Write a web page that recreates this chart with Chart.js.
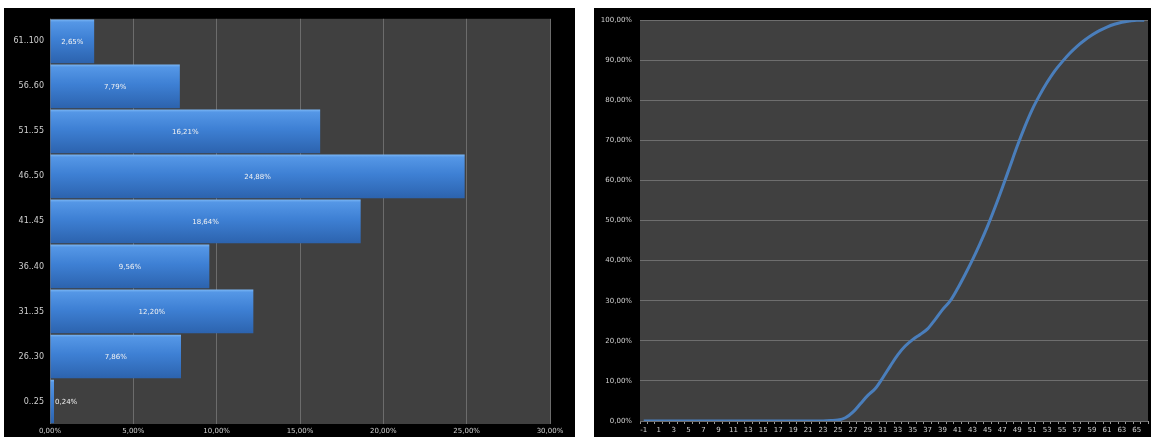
<!DOCTYPE html>
<html>
<head>
<meta charset="utf-8">
<script src="https://cdn.jsdelivr.net/npm/chart.js@4.4.1/dist/chart.umd.min.js"></script>
<style>
  html, body { margin: 0; padding: 0; background: #ffffff; width: 1151px; height: 437px; overflow: hidden; }
  .box { position: absolute; background: #000000; }
  #leftBox { left: 4px; top: 8px; width: 571px; height: 429px; }
  #rightBox { left: 594px; top: 8px; width: 557px; height: 429px; }
  canvas { display: block; }
</style>
</head>
<body>
<div class="box" id="leftBox"><canvas id="barChart" width="571" height="429"></canvas></div>
<div class="box" id="rightBox"><canvas id="lineChart" width="557" height="429"></canvas></div>
<script>
// ---- Data: age-group distribution (percent) ----
const ageGroups = ["61..100", "56..60", "51..55", "46..50", "41..45", "36..40", "31..35", "26..30", "0..25"];
const groupShares = [2.65, 7.79, 16.21, 24.88, 18.64, 9.56, 12.20, 7.86, 0.24];
const shareTicks = [0, 5, 10, 15, 20, 25, 30];

// ---- Data: cumulative share by age (percent) ----
const ages = [-1, 0, 1, 2, 3, 4, 5, 6, 7, 8, 9, 10, 11, 12, 13, 14, 15, 16, 17, 18, 19, 20, 21, 22,
  23, 24, 25, 26, 27, 28, 29, 30, 31, 32, 33, 34, 35, 36, 37, 38, 39, 40, 41, 42, 43, 44, 45,
  46, 47, 48, 49, 50, 51, 52, 53, 54, 55, 56, 57, 58, 59, 60, 61, 62, 63, 64, 65, 66];
const cumulativeShare = [0, 0, 0, 0, 0, 0, 0, 0, 0, 0, 0, 0, 0, 0, 0, 0, 0, 0, 0, 0, 0, 0, 0, 0,
  0.02, 0.1, 0.24, 0.8, 2.2, 4.3, 6.4, 8.1, 10.8, 13.7, 16.5, 18.7, 20.3, 21.6, 23.0, 25.3, 27.8, 29.9,
  33.0, 36.5, 40.2, 44.2, 48.5, 53.2, 58.2, 63.4, 68.6, 73.4, 77.7, 81.3, 84.5, 87.3, 89.6,
  91.7, 93.5, 95.0, 96.3, 97.4, 98.3, 99.0, 99.5, 99.8, 100, 100];

const pct = v => Number(v).toFixed(2).replace('.', ',') + '%';

Chart.defaults.font.family = "'DejaVu Sans', sans-serif";
Chart.defaults.color = '#d4d4d4';
Chart.defaults.animation = false;

const plotBg = {
  id: 'plotBg',
  beforeDraw(chart) {
    const a = chart.chartArea, c = chart.ctx;
    c.save();
    c.fillStyle = '#404040';
    c.fillRect(a.left, a.top, a.right - a.left, a.bottom - a.top);
    c.restore();
  }
};

const barLabels = {
  id: 'barLabels',
  afterDatasetsDraw(chart) {
    const c = chart.ctx;
    const meta = chart.getDatasetMeta(0);
    c.save();
    c.font = "7px 'DejaVu Sans', sans-serif";
    c.fillStyle = '#f2f2f2';
    c.textBaseline = 'middle';
    c.textAlign = 'left';
    meta.data.forEach((el, i) => {
      const t = pct(groupShares[i]);
      const w = c.measureText(t).width;
      const bw = el.x - el.base;
      let left = (el.x + el.base) / 2 - w / 2;
      if (w + 4 > bw) left = el.x + 1;
      c.fillText(t, left, el.y + 0.5);
    });
    c.restore();
  }
};

function barGradient(ctx) {
  const chart = ctx.chart;
  if (!chart.chartArea || ctx.type !== 'data') return '#3f80d4';
  const y = chart.scales.y;
  const center = y.getPixelForValue(ctx.dataIndex);
  const half = (y.height / ageGroups.length) * 0.97 / 2;
  const g = chart.ctx.createLinearGradient(0, center - half, 0, center + half);
  g.addColorStop(0, '#7ab6f5');
  g.addColorStop(0.06, '#5597e6');
  g.addColorStop(0.45, '#3e80d4');
  g.addColorStop(1, '#2c63ae');
  return g;
}

new Chart(document.getElementById('barChart'), {
  type: 'bar',
  data: {
    labels: ageGroups,
    datasets: [{
      data: groupShares,
      backgroundColor: barGradient,
      borderWidth: 0,
      categoryPercentage: 1,
      barPercentage: 0.97
    }]
  },
  options: {
    indexAxis: 'y',
    responsive: false,
    layout: { padding: { top: 9, right: 25, left: 0, bottom: 0 } },
    plugins: { legend: { display: false }, tooltip: { enabled: false } },
    scales: {
      x: {
        min: 0, max: 30,
        afterBuildTicks(scale) { scale.ticks = shareTicks.map(v => ({ value: v })); },
        afterFit(scale) { scale.height = 13; },
        grid: { color: '#6c6c6c', lineWidth: 1, drawTicks: false },
        border: { display: false },
        ticks: { font: { size: 7 }, padding: 3, maxRotation: 0, callback: v => pct(v), color: '#d0d0d0' }
      },
      y: {
        afterFit(scale) { scale.width = 46; },
        grid: { display: false, drawTicks: false },
        border: { display: false },
        ticks: { font: { size: 8 }, padding: 6, color: '#d0d0d0' }
      }
    }
  },
  plugins: [plotBg, barLabels]
});

new Chart(document.getElementById('lineChart'), {
  type: 'line',
  data: {
    labels: ages.map(String),
    datasets: [{
      data: cumulativeShare,
      borderColor: '#4a7ebb',
      borderWidth: 3,
      pointRadius: 0,
      cubicInterpolationMode: 'monotone',
      fill: false
    }]
  },
  options: {
    responsive: false,
    layout: { padding: { top: 10, right: 3, left: 0, bottom: 0 } },
    plugins: { legend: { display: false }, tooltip: { enabled: false } },
    scales: {
      x: {
        offset: true,
        afterFit(scale) { scale.height = 16; },
        grid: { offset: true, drawOnChartArea: false, tickLength: 3, color: '#9a9a9a' },
        border: { display: false },
        ticks: {
          autoSkip: false, maxRotation: 0, minRotation: 0, font: { size: 7 }, padding: 2, color: '#d0d0d0',
          callback(v, i) { return i % 2 === 0 ? ages[i] : ''; }
        }
      },
      y: {
        min: 0, max: 100,
        afterFit(scale) { scale.width = 46; },
        grid: { color: '#6e6e6e', drawTicks: false },
        border: { display: false },
        ticks: { stepSize: 10, font: { size: 7 }, padding: 8, color: '#d0d0d0', callback: v => pct(v) }
      }
    }
  },
  plugins: [plotBg]
});
</script>
</body>
</html>
